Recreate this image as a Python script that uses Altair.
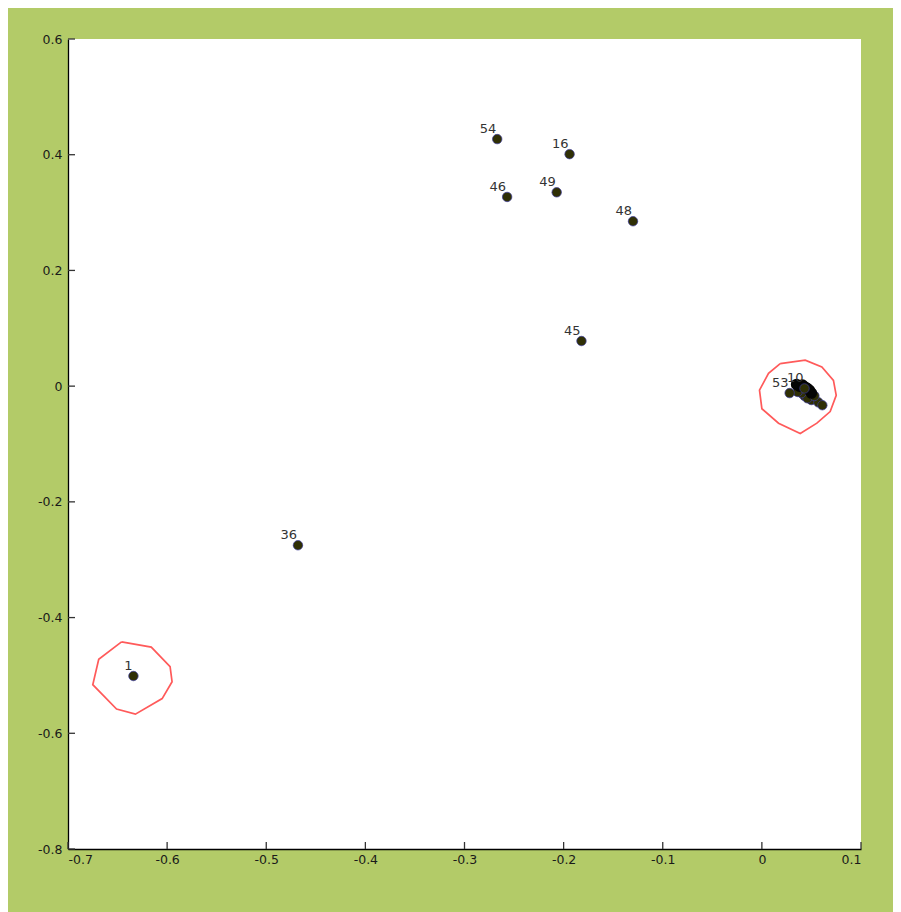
import altair as alt
import pandas as pd

# labelled points
pt_labels = ["54", "16", "46", "49", "48", "45", "36", "1", "53", "10"]
pt_x = [-0.267, -0.194, -0.257, -0.207, -0.130, -0.182, -0.468, -0.634, 0.028, 0.043]
pt_y = [0.427, 0.401, 0.327, 0.335, 0.285, 0.078, -0.275, -0.501, -0.012, -0.004]

# unlabelled olive points in the right-hand cluster
cl_x = [0.043, 0.050, 0.057, 0.061, 0.046, 0.053, 0.040, 0.036]
cl_y = [-0.017, -0.024, -0.028, -0.033, -0.021, -0.017, -0.012, -0.010]

# dark (black) points overlapping in the cluster
bk_x = [0.038, 0.044, 0.048, 0.035, 0.050, 0.041, 0.046]
bk_y = [0.000, -0.002, -0.007, 0.003, -0.012, 0.002, -0.004]

# red outlines
poly1_x = [-0.646, -0.616, -0.597, -0.595, -0.605, -0.632, -0.651, -0.675, -0.669, -0.646]
poly1_y = [-0.442, -0.451, -0.485, -0.511, -0.540, -0.567, -0.558, -0.516, -0.472, -0.442]
poly2_x = [0.0185, 0.0437, 0.0605, 0.0722, 0.0750, 0.0689, 0.0555, 0.0387, 0.0168, 0.0000, -0.0024, 0.0067, 0.0185]
poly2_y = [0.039, 0.045, 0.033, 0.010, -0.016, -0.044, -0.064, -0.082, -0.064, -0.039, -0.007, 0.022, 0.039]

x_ticks = [-0.7, -0.6, -0.5, -0.4, -0.3, -0.2, -0.1, 0.0, 0.1]
y_ticks = [-0.8, -0.6, -0.4, -0.2, 0.0, 0.2, 0.4, 0.6]

W, H = 793, 810
FONT = "DejaVu Sans"

pts = pd.DataFrame({"x": pt_x, "y": pt_y, "label": pt_labels})
cl = pd.DataFrame({"x": cl_x, "y": cl_y})
bk = pd.DataFrame({"x": bk_x, "y": bk_y})
poly = pd.concat([
    pd.DataFrame({"x": poly1_x, "y": poly1_y, "g": "a", "i": range(len(poly1_x))}),
    pd.DataFrame({"x": poly2_x, "y": poly2_y, "g": "b", "i": range(len(poly2_x))}),
])
xt = pd.DataFrame({"v": x_ticks})
yt = pd.DataFrame({"v": y_ticks})

minus_fix = "replace(format(datum.value, '~g'), '\u2212', '-')"

xs = alt.Scale(domain=[-0.7, 0.1], nice=False, zero=False)
ys = alt.Scale(domain=[-0.8, 0.6], nice=False, zero=False)

xax = alt.Axis(values=x_ticks, title=None, grid=False, tickSize=0, domainColor="black",
               labelExpr=minus_fix, labelFont=FONT, labelFontSize=12.5, labelColor="#1a1a1a",
               labelPadding=4, domainWidth=1.3)
yax = alt.Axis(values=y_ticks, title=None, grid=False, tickSize=0, domainColor="black",
               labelExpr=minus_fix, labelFont=FONT, labelFontSize=12.5, labelColor="#1a1a1a",
               labelPadding=6, domainWidth=1.3)

polys = alt.Chart(poly).mark_line(color="#ff5a5a", strokeWidth=1.7).encode(
    x=alt.X("x:Q", scale=xs, axis=xax),
    y=alt.Y("y:Q", scale=ys, axis=yax),
    detail="g:N",
    order="i:Q",
)

olive = dict(filled=True, fill="#2f2f05", stroke="#3b3b9a", strokeWidth=0.7, opacity=1, size=90, shape="circle")

p_main = alt.Chart(pts).mark_point(**olive).encode(x=alt.X("x:Q", scale=xs), y=alt.Y("y:Q", scale=ys))
p_cl = alt.Chart(cl).mark_point(**olive).encode(x=alt.X("x:Q", scale=xs), y=alt.Y("y:Q", scale=ys))
p_bk = alt.Chart(bk).mark_point(filled=True, fill="#050505", stroke="#050505", size=90, opacity=1,
                                shape="circle").encode(x=alt.X("x:Q", scale=xs), y=alt.Y("y:Q", scale=ys))

labels = alt.Chart(pts).mark_text(align="right", baseline="bottom", dx=-1, dy=-3,
                                  font=FONT, fontSize=13, color="#333").encode(
    x=alt.X("x:Q", scale=xs), y=alt.Y("y:Q", scale=ys), text="label:N")

xtick = alt.Chart(xt).mark_rule(color="#333", strokeWidth=1.3).encode(
    x=alt.X("v:Q", scale=xs), y=alt.value(H), y2=alt.value(H - 7))
ytick = alt.Chart(yt).mark_rule(color="#333", strokeWidth=1.3).encode(
    y=alt.Y("v:Q", scale=ys), x=alt.value(0), x2=alt.value(7))

chart = alt.layer(polys, p_cl, p_bk, p_main, labels, xtick, ytick).properties(
    width=W, height=H,
    autosize=alt.AutoSizeParams(type="none"),
    padding={"left": 60, "top": 31, "right": 32, "bottom": 63},
    background="#b3cb68",
).configure_view(fill="white", stroke=None)

chart.save("out.html", embed_options={"renderer": "svg", "actions": False})
